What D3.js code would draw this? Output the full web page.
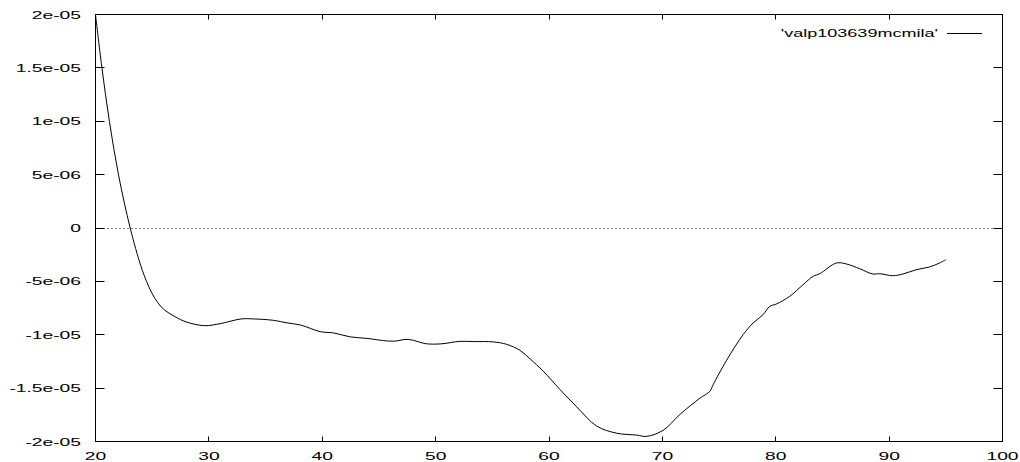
<!DOCTYPE html>
<html>
<head>
<meta charset="utf-8">
<script src="https://cdn.jsdelivr.net/npm/d3@7"></script>
<style>
  body { margin: 0; background: #fff; }
  svg { display: block; }
  text { font-family: "Liberation Sans", Arial, Helvetica, sans-serif; font-size: 11px; fill: #000; }
</style>
</head>
<body>
<svg id="chart" width="1020" height="462"></svg>
<script>
// ---- data ----
const seriesName = "'valp103639mcmila'";
const xs = [20, 20.56, 21.23, 22.03, 23.06, 24.0, 24.5, 25.0, 25.5, 26.0, 27.0, 28.0, 29.6, 31.0, 32.84, 34.0,
  35.71, 36.89, 38.06, 39.82, 41.0, 42.47, 43.94, 45.7, 46.58, 47.31, 48.04, 49.07, 50.4,
  52.16, 53.33, 55.09, 56.27, 57.44, 58.33, 59.5, 60.97, 62.44, 64.2, 65.96, 67.73, 68.61,
  70.07, 71.54, 73.3, 74.19, 74.48, 75.66, 77.12, 78.0, 78.88, 79.47, 80.06, 81.23,
  82.41, 83.29, 83.88, 85.35, 86.23, 87.4, 88.57, 89.16, 90.33, 91.21, 92.39, 93.56, 94.45, 95.0];
const ys = [2.0e-5, 1.506e-5, 9.97e-6, 4.98e-6, 0.0, -3.55e-6, -5.0e-6, -6.15e-6, -7.0e-6, -7.6e-6, -8.3e-6, -8.8e-6, -9.15e-6,
  -8.96e-6, -8.52e-6, -8.52e-6, -8.65e-6, -8.89e-6, -9.08e-6, -9.71e-6, -9.83e-6, -1.02e-5,
  -1.034e-5, -1.058e-5, -1.058e-5, -1.043e-5, -1.052e-5, -1.083e-5, -1.086e-5, -1.062e-5,
  -1.064e-5, -1.067e-5, -1.09e-5, -1.146e-5, -1.226e-5, -1.342e-5, -1.513e-5, -1.675e-5,
  -1.855e-5, -1.922e-5, -1.94e-5, -1.952e-5, -1.895e-5, -1.747e-5, -1.595e-5, -1.53e-5,
  -1.467e-5, -1.24e-5, -9.99e-6, -8.9e-6, -8.12e-6, -7.34e-6, -7.12e-6, -6.4e-6,
  -5.31e-6, -4.53e-6, -4.28e-6, -3.28e-6, -3.37e-6, -3.81e-6, -4.31e-6, -4.28e-6, -4.47e-6,
  -4.31e-6, -3.91e-6, -3.65e-6, -3.28e-6, -2.97e-6];
const xTicks = [20, 30, 40, 50, 60, 70, 80, 90, 100];
const xTickLabels = ["20", "30", "40", "50", "60", "70", "80", "90", "100"];
const yTicks = [-2e-5, -1.5e-5, -1e-5, -5e-6, 0, 5e-6, 1e-5, 1.5e-5, 2e-5];
const yTickLabels = ["-2e-05", "-1.5e-05", "-1e-05", "-5e-06", "0", "5e-06", "1e-05", "1.5e-05", "2e-05"];

// ---- layout ----
const L = 95.5, R = 1002.5, T = 14.5, B = 441.5;
const SX = 1.75;      // horizontal stretch of the glyphs
const SXL = 1.64;     // legend text stretch

const svg = d3.select("#chart");
const x = d3.scaleLinear().domain([20, 100]).range([L, R]);
const y = d3.scaleLinear().domain([-2e-5, 2e-5]).range([B, T]);

// zero line (dotted)
svg.append("line")
  .attr("x1", L).attr("x2", R)
  .attr("y1", Math.round(y(0)) + 0.5).attr("y2", Math.round(y(0)) + 0.5)
  .attr("stroke", "#000").attr("stroke-width", 1).attr("stroke-dasharray", "1,3");

// ticks (inward, mirrored)
const g = svg.append("g").attr("stroke", "#000").attr("stroke-width", 1);
yTicks.forEach(v => {
  const yy = Math.round(y(v) - 0.5) + 0.5;
  g.append("line").attr("x1", L).attr("x2", L + 9).attr("y1", yy).attr("y2", yy);
  g.append("line").attr("x1", R).attr("x2", R - 9).attr("y1", yy).attr("y2", yy);
});
xTicks.forEach(v => {
  const xx = Math.round(x(v) - 0.5) + 0.5;
  g.append("line").attr("x1", xx).attr("x2", xx).attr("y1", B).attr("y2", B - 5);
  g.append("line").attr("x1", xx).attr("x2", xx).attr("y1", T).attr("y2", T + 5);
});

// frame
svg.append("rect").attr("x", L).attr("y", T).attr("width", R - L).attr("height", B - T)
  .attr("fill", "none").attr("stroke", "#000").attr("stroke-width", 1);

// tick labels
yTicks.forEach((v, i) => {
  svg.append("text")
    .attr("transform", `translate(81,${y(v) + 4}) scale(${SX},1)`)
    .attr("text-anchor", "end")
    .text(yTickLabels[i]);
});
xTicks.forEach((v, i) => {
  svg.append("text")
    .attr("transform", `translate(${x(v)},460) scale(${SX},1)`)
    .attr("text-anchor", "middle")
    .text(xTickLabels[i]);
});

// curve
const pts = xs.map((d, i) => [d, ys[i]]);
const line = d3.line().x(d => x(d[0])).y(d => y(d[1])).curve(d3.curveCatmullRom.alpha(0.5));
svg.append("path").datum(pts)
  .attr("d", line)
  .attr("fill", "none").attr("stroke", "#000").attr("stroke-width", 1);

// legend
svg.append("text")
  .attr("transform", `translate(938,37) scale(${SXL},1)`)
  .attr("text-anchor", "end")
  .text(seriesName);
svg.append("line").attr("x1", 947).attr("x2", 982).attr("y1", 33.5).attr("y2", 33.5)
  .attr("stroke", "#000").attr("stroke-width", 1);
</script>
</body>
</html>
